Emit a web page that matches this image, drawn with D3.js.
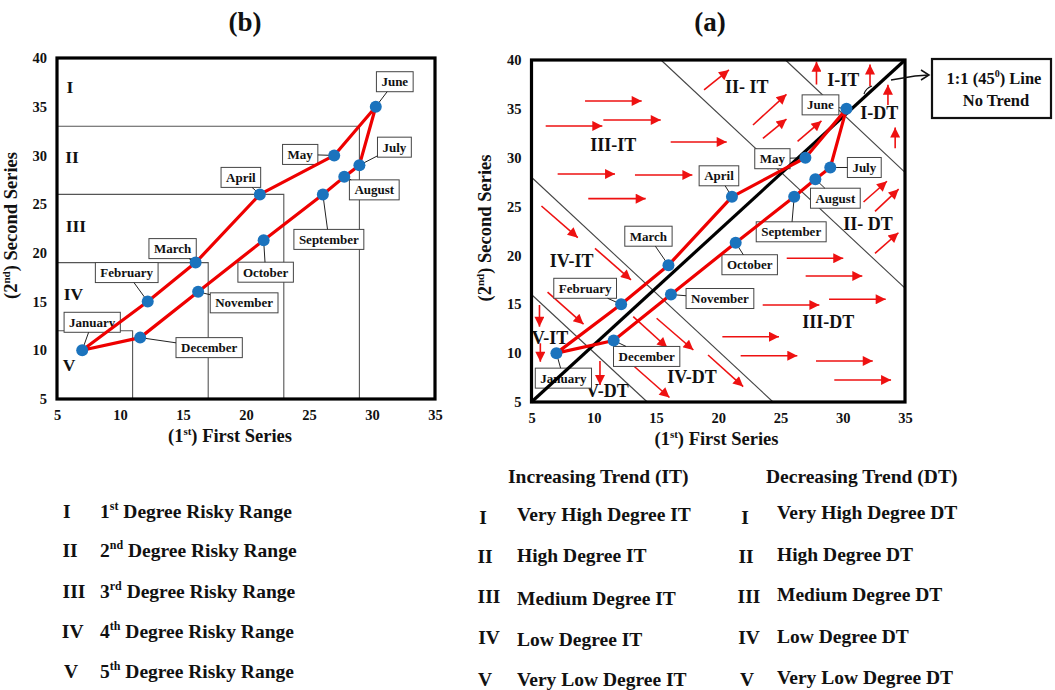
<!DOCTYPE html>
<html><head><meta charset="utf-8">
<script src="https://cdn.jsdelivr.net/npm/d3@7"></script>
<style>
body{margin:0;background:#fff;}
svg text{font-family:"Liberation Serif","Times New Roman",serif;font-weight:bold;fill:#111;}
</style></head><body>
<svg id="c" width="1055" height="690"></svg>
<script>
// ---------------- DATA ----------------
const months = ["January","February","March","April","May","June","July","August","September","October","November","December"];
const firstSeries  = [7, 12.2, 16, 21.1, 27, 30.3, 29, 27.8, 26.1, 21.4, 16.2, 11.6];
const secondSeries = [10, 15, 19, 26, 30, 35, 29, 27.8, 26, 21.3, 16, 11.3];
const xTicks = [5, 10, 15, 20, 25, 30, 35];
const yTicks = [5, 10, 15, 20, 25, 30, 35, 40];

// panel (b): risky ranges (upper y limit and right x limit of each nested box)
const riskY = [33, 26, 19, 12];
const riskX = [29, 23, 17, 11];
const riskRomans = ["I", "II", "III", "IV", "V"];
const riskRomanX = [6.03, 6.2, 6.5, 6.3, 5.95];
const riskRomanY = [37.0, 29.8, 22.8, 15.8, 8.5];

// panel (a): trend zone boundaries [x1,y1,x2,y2]
const trendBounds = [[5,16,14.3,5],[5,28,24.4,5],[15.4,40,35,16.65],[25.4,40,35,28.5]];
const trendLabels = ["III-IT","II- IT","I-IT","I-DT","II- DT","IV-IT","V-IT","V-DT","IV-DT","III-DT"];
const trendLabelX = [11.57, 22.28, 30.04, 32.94, 32.03, 8.23, 6.49, 11.09, 17.89, 28.84];
const trendLabelY = [31.30, 37.27, 37.95, 34.55, 23.22, 19.43, 11.52, 6.13, 7.56, 13.22];
// trend arrows [x1,y1,x2,y2]
const trendArrows = [
 [9.30,35.81,13.85,35.81],[10.77,33.86,15.38,33.86],[6.14,33.25,10.69,33.25],[16.18,31.61,20.68,31.61],
 [7.10,28.33,11.71,28.33],[13.31,28.23,17.92,28.23],[9.56,25.81,14.17,25.81],
 [25.50,19.71,30.04,19.71],[27.02,17.90,31.57,17.90],[28.90,15.51,33.45,15.51],[23.57,14.93,28.12,14.93],
 [20.33,11.68,24.88,11.68],[21.80,9.74,26.35,9.74],[27.85,9.20,32.41,9.20],[29.32,7.25,33.88,7.25],
 [18.86,36.93,20.86,38.98],[22.79,33.35,25.48,36.49],[23.59,31.99,25.48,33.96],[26.37,31.68,28.29,33.76],
 [31.67,25.47,33.55,27.59],[32.59,24.50,34.49,26.78],[32.59,20.22,34.47,22.32],
 [27.89,37.49,27.89,39.83],[32.19,37.34,32.19,39.54],[33.63,35.40,33.63,37.47],[34.21,30.97,34.21,33.09],
 [5.80,25.06,8.72,21.82],[10.10,20.73,12.99,17.49],[6.29,16.24,9.18,12.96],[13.17,13.73,15.90,10.58],
 [15.05,13.57,18.00,10.32],[13.28,8.61,16.08,5.46],[19.18,9.81,22.00,6.58],
 [5.64,14.93,5.64,12.71],[5.71,11.01,5.71,9.12],[10.50,9.20,10.50,6.74]
];

const riskLegend = [["1","st"],["2","nd"],["3","rd"],["4","th"],["5","th"]];
const itLegend = ["Very High Degree IT","High Degree IT","Medium Degree IT","Low Degree IT","Very Low Degree IT"];
const dtLegend = ["Very High Degree DT","High Degree DT","Medium Degree DT","Low Degree DT","Very Low Degree DT"];

// ---------------- LAYOUT ----------------
const labelOffB = [[10,-28],[-21,-29],[-23,-14],[-19,-17],[-34,-1],[19,-25],[35,-18],[30,13],[6,45],[2,32],[46,11],[69,10]];
const labelOffA = [[7,25],[-36,-16],[-20,-29],[-13,-21],[-33,1],[-26,-4],[34,0],[20,19],[-3,35],[14,22],[49,4],[33,16]];

const svg = d3.select("#c");
const defs = svg.append("defs");
defs.append("marker").attr("id","ah").attr("viewBox","0 0 10 10").attr("refX",10).attr("refY",5)
  .attr("markerUnits","userSpaceOnUse").attr("markerWidth",12).attr("markerHeight",10).attr("orient","auto")
  .append("path").attr("d","M0,0L10,5L0,10z").attr("fill","#ee1111");

const data = months.map((m,i)=>({m, x:firstSeries[i], y:secondSeries[i]}));

function clip(cx,cy,w,h,px,py){
  const dx=px-cx, dy=py-cy;
  const tx = dx!==0 ? (w/2)/Math.abs(dx) : Infinity;
  const ty = dy!==0 ? (h/2)/Math.abs(dy) : Infinity;
  const t=Math.min(tx,ty);
  return [cx+dx*t, cy+dy*t];
}

function panel(g, x, y, offs, title, titleX, xTitleX, yTitleX){
  const lg = g.append("g");
  data.forEach((d,i)=>{
    const px=x(d.x), py=y(d.y);
    const cx=px+offs[i][0], cy=py+offs[i][1];
    const t = lg.append("text").attr("x",cx).attr("y",cy+4.5).attr("text-anchor","middle")
      .attr("font-size",13).text(d.m);
    const w = t.node().getComputedTextLength()+10, h=20;
    lg.insert("rect","text").attr("x",cx-w/2).attr("y",cy-h/2).attr("width",w).attr("height",h)
      .attr("fill","#fff").attr("stroke","#444").attr("stroke-width",1);
    const e = clip(cx,cy,w,h,px,py);
    lg.append("line").attr("x1",e[0]).attr("y1",e[1]).attr("x2",px).attr("y2",py)
      .attr("stroke","#222").attr("stroke-width",1);
  });
  const ax = g.append("g").attr("transform",`translate(0,${y(5)})`)
    .call(d3.axisBottom(x).tickValues(xTicks).tickSize(0).tickPadding(11));
  const ay = g.append("g").attr("transform",`translate(${x(5)},0)`)
    .call(d3.axisLeft(y).tickValues(yTicks).tickSize(0).tickPadding(10));
  [ax,ay].forEach(a=>{ a.select(".domain").remove();
    a.selectAll("text").attr("font-size",14.5).attr("font-family","Liberation Serif").attr("font-weight","bold").attr("fill","#111"); });
  g.append("text").attr("x",titleX).attr("y",31).attr("text-anchor","middle").attr("font-size",27).text(title);
  const xt = g.append("text").attr("x",xTitleX).attr("y",y(5)+43).attr("text-anchor","middle").attr("font-size",18.5);
  xt.append("tspan").text("(1");
  xt.append("tspan").attr("font-size",11).attr("dy",-7).text("st");
  xt.append("tspan").attr("dy",7).text(") First Series");
  const yc=(y(5)+y(40))/2 - 3;
  const yt = g.append("text").attr("transform",`translate(${yTitleX},${yc}) rotate(-90)`).attr("text-anchor","middle").attr("font-size",18.5);
  yt.append("tspan").text("(2");
  yt.append("tspan").attr("font-size",11).attr("dy",-7).text("nd");
  yt.append("tspan").attr("dy",7).text(") Second Series");
}

function drawSeries(g,x,y){
  const line = d3.line().x(d=>x(d.x)).y(d=>y(d.y)).curve(d3.curveLinearClosed);
  g.append("path").attr("d",line(data)).attr("fill","none").attr("stroke","#ee0000").attr("stroke-width",3.2).attr("stroke-linejoin","round");
  g.selectAll("circle.pt").data(data).join("circle").attr("class","pt").attr("cx",d=>x(d.x)).attr("cy",d=>y(d.y)).attr("r",6).attr("fill","#1b73bd");
}
function frame(g,x,y){
  g.append("rect").attr("x",x(5)).attr("y",y(40)).attr("width",x(35)-x(5)).attr("height",y(5)-y(40))
    .attr("fill","none").attr("stroke","#000").attr("stroke-width",3.2);
}

// ---------------- PANEL (b) ----------------
const xB = d3.scaleLinear().domain([5,35]).range([57,435]);
const yB = d3.scaleLinear().domain([5,40]).range([399,58]);
const gB = svg.append("g");
riskY.forEach((ry,i)=>{
  gB.append("polyline").attr("points",`${xB(5)},${yB(ry)} ${xB(riskX[i])},${yB(ry)} ${xB(riskX[i])},${yB(5)}`)
    .attr("fill","none").attr("stroke","#555").attr("stroke-width",1.1);
});
riskRomans.forEach((r,i)=>{
  gB.append("text").attr("x",xB(riskRomanX[i])).attr("y",yB(riskRomanY[i])+6).attr("text-anchor","middle").attr("font-size",17.5).text(r);
});
panel(gB,xB,yB,labelOffB,"(b)",245,230,17);
drawSeries(gB,xB,yB);
frame(gB,xB,yB);

// ---------------- PANEL (a) ----------------
const xA = d3.scaleLinear().domain([5,35]).range([531.5,905]);
const yA = d3.scaleLinear().domain([5,40]).range([402,60]);
const gA = svg.append("g");
trendBounds.forEach(b=>{
  gA.append("line").attr("x1",xA(b[0])).attr("y1",yA(b[1])).attr("x2",xA(b[2])).attr("y2",yA(b[3]))
    .attr("stroke","#444").attr("stroke-width",1.1);
});
trendArrows.forEach(a=>{
  gA.append("line").attr("x1",xA(a[0])).attr("y1",yA(a[1])).attr("x2",xA(a[2])).attr("y2",yA(a[3]))
    .attr("stroke","#ee1111").attr("stroke-width",1.6).attr("marker-end","url(#ah)");
});
trendLabels.forEach((t,i)=>{
  gA.append("text").attr("x",xA(trendLabelX[i])).attr("y",yA(trendLabelY[i])+6).attr("text-anchor","middle").attr("font-size",18).text(t);
});
panel(gA,xA,yA,labelOffA,"(a)",710,716.5,491);
gA.append("line").attr("x1",xA(5)).attr("y1",yA(5)).attr("x2",xA(35)).attr("y2",yA(40)).attr("stroke","#000").attr("stroke-width",3.2);
drawSeries(gA,xA,yA);
frame(gA,xA,yA);

// 1:1 callout
const cg = svg.append("g");
cg.append("path").attr("d","M891,80 L915,76 L929,75").attr("fill","none").attr("stroke","#111").attr("stroke-width",1.3);
cg.append("path").attr("d","M921,70 L929,75 L921,80").attr("fill","none").attr("stroke","#111").attr("stroke-width",1.5);
cg.append("path").attr("d","M872,86 Q866,88 864,94").attr("fill","none").attr("stroke","#111").attr("stroke-width",1.2);
cg.append("rect").attr("x",932).attr("y",59).attr("width",119).attr("height",59).attr("fill","#fff").attr("stroke","#111").attr("stroke-width",2.2);
const t1 = cg.append("text").attr("x",994).attr("y",84).attr("text-anchor","middle").attr("font-size",16.5);
t1.append("tspan").text("1:1 (45");
t1.append("tspan").attr("font-size",10).attr("dy",-7).text("0");
t1.append("tspan").attr("dy",7).text(") Line");
cg.append("text").attr("x",996).attr("y",106).attr("text-anchor","middle").attr("font-size",16.5).text("No Trend");

// ---------------- LEGENDS ----------------
const LF = 19.5;
const lgY = [518, 557, 598, 638, 678];
const lgRomanX = [66.7, 70, 74, 72.7, 71];
riskLegend.forEach((p,i)=>{
  svg.append("text").attr("x",lgRomanX[i]).attr("y",lgY[i]).attr("text-anchor","middle").attr("font-size",LF).text(riskRomans[i]);
  const t = svg.append("text").attr("x",100).attr("y",lgY[i]).attr("font-size",LF);
  t.append("tspan").text(p[0]);
  t.append("tspan").attr("font-size",12).attr("dy",-8).text(p[1]);
  t.append("tspan").attr("dy",8).text(" Degree Risky Range");
});
svg.append("text").attr("x",508).attr("y",483).attr("font-size",LF).text("Increasing Trend (IT)");
svg.append("text").attr("x",766).attr("y",483).attr("font-size",LF).text("Decreasing Trend (DT)");
const itY = [521, 562, 605, 646, 686];
const itRomanY = [524, 563, 603, 644, 686];
const dtY = [519, 561, 601, 643, 684];
const itRomanX = [483, 485, 489, 489, 485];
const dtRomanX = [745, 746, 749, 749, 747];
itLegend.forEach((s,i)=>{
  svg.append("text").attr("x",itRomanX[i]).attr("y",itRomanY[i]).attr("text-anchor","middle").attr("font-size",LF).text(riskRomans[i]);
  svg.append("text").attr("x",517).attr("y",itY[i]).attr("font-size",LF).text(s);
  svg.append("text").attr("x",dtRomanX[i]).attr("y",itRomanY[i]).attr("text-anchor","middle").attr("font-size",LF).text(riskRomans[i]);
  svg.append("text").attr("x",777).attr("y",dtY[i]).attr("font-size",LF).text(dtLegend[i]);
});
</script></body></html>
